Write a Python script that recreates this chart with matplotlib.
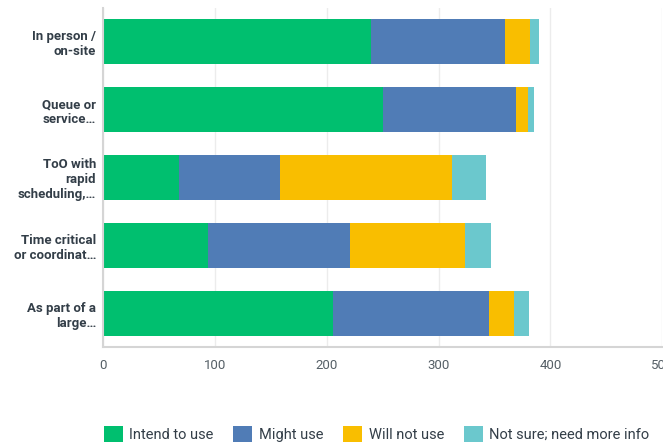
import matplotlib.pyplot as plt
from matplotlib.patches import Patch

plt.rcParams["font.family"] = ["Roboto", "DejaVu Sans"]

categories = [
    "In person /\non-site",
    "Queue or\nservice\u2026",
    "ToO with\nrapid\nscheduling,\u2026",
    "Time critical\nor coordinat\u2026",
    "As part of a\nlarge\u2026",
]
series_names = ["Intend to use", "Might use", "Will not use", "Not sure; need more info"]
intend = [240, 250, 68, 94, 206]
might = [119, 119, 90, 127, 139]
will_not = [23, 11, 154, 103, 22]
not_sure = [8, 5, 30, 23, 14]
ticks = [0, 100, 200, 300, 400, 500]

colors = ["#00BF6F", "#507CB6", "#F9BE00", "#6BC8CD"]

fig = plt.figure(figsize=(6.63, 4.42), dpi=100)
ax = fig.add_axes([0.1554, 0.215, 0.8436, 0.767])

ypos = list(range(len(categories)))
left = [0] * len(categories)
for vals, col in zip([intend, might, will_not, not_sure], colors):
    ax.barh(ypos, vals, left=left, height=0.665, color=col, edgecolor="none", zorder=2)
    left = [a + b for a, b in zip(left, vals)]

ax.set_xlim(0, 500)
ax.set_ylim(4.5, -0.5)
ax.set_xticks(ticks)
ax.set_xticklabels([str(t) for t in ticks], color="#555f66", fontsize=9.5)
ax.set_yticks(ypos)
ax.set_yticklabels(categories, color="#333e48", fontsize=9.5, fontweight="bold")
ax.tick_params(axis="x", length=0, pad=9)
ax.tick_params(axis="y", length=0, pad=5)
ax.grid(axis="x", color="#ececec", linewidth=1, zorder=0)

for s in ["top", "right"]:
    ax.spines[s].set_visible(False)
ax.spines["left"].set_color("#d5d5d5")
ax.spines["bottom"].set_color("#d5d5d5")
ax.spines["left"].set_linewidth(1.5)
ax.spines["bottom"].set_linewidth(1.5)

handles = [Patch(facecolor=c, edgecolor="none") for c in colors]
fig.legend(
    handles,
    series_names,
    loc="lower center",
    bbox_to_anchor=(0.568, -0.03),
    ncol=4,
    frameon=False,
    fontsize=10.5,
    handlelength=1.3,
    handleheight=1.3,
    handletextpad=0.45,
    columnspacing=1.35,
    labelcolor="#333e48",
)

fig.savefig("out.png", dpi=100)
